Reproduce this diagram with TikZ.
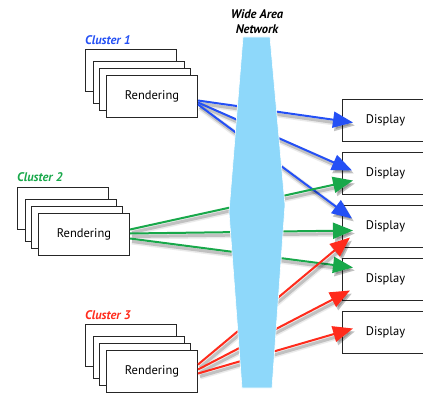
\documentclass[tikz,border=0pt]{standalone}
\usepackage{fontspec}
\setmainfont{PT Sans}
\usetikzlibrary{arrows.meta}

\definecolor{linkblue}{HTML}{2450F5}
\definecolor{linkgreen}{HTML}{18A84A}
\definecolor{linkred}{HTML}{FF2B1C}
\definecolor{wanblue}{HTML}{8ED8FA}

\tikzset{
    stackbox/.style={draw=black!85, line width=1pt, fill=white,
        minimum width=91pt, minimum height=42pt, inner sep=0pt,
        font=\fontsize{12.5}{14}\selectfont},
    displaybox/.style={stackbox, minimum width=90pt},
    tag/.style={font=\fontsize{12.5}{14}\selectfont\bfseries\itshape, inner sep=0pt},
    link/.style={line width=2pt, -{Triangle[length=20pt,width=16pt]},
        preaction={draw=black, opacity=0.08, line width=6pt,
            transform canvas={shift={(2pt,-3pt)}}},
        preaction={draw=black, opacity=0.18, line width=3pt,
            transform canvas={shift={(2pt,-3pt)}}}}
}

\begin{document}
\begin{tikzpicture}[x=1pt, y=-1pt]
    \useasboundingbox (0,0) rectangle (423,393);
    \clip (0,0) rectangle (423,393);

    % Rendering clusters
    \foreach \c/\x/\y in {1/85/49, 2/17/187, 3/85/324} {
        \foreach \k/\dx/\dy in {1/0/0, 2/8/12, 3/14/19, 4/21/26} {
            \ifnum \k=4
                \node[stackbox, anchor=north west] (c\c-\k) at (\x+\dx,\y+\dy) {Rendering};
            \else
                \node[stackbox, anchor=north west] (c\c-\k) at (\x+\dx,\y+\dy) {};
            \fi
        }
    }
    \node[tag, linkblue, anchor=west] (lab1) at (85,40) {Cluster 1};
    \node[tag, linkgreen, anchor=west] (lab2) at (17,177) {Cluster 2};
    \node[tag, linkred, anchor=west] (lab3) at (85,315) {Cluster 3};

    % Displays
    \foreach \i/\y in {1/99,2/152,3/205,4/258,5/311} {
        \node[displaybox, anchor=north west] (d\i) at (342,\y) {\hspace*{-4pt}Display};
    }

    % Links
    \foreach \d/\s/\tx/\ty in {1/4/11/2, 2/6/10/-3, 3/8/10/-8} {
        \draw[link, linkblue] ([shift={(0,\s)}]c1-4.east) -- ([shift={(\tx,\ty)}]d\d.west);
    }
    \foreach \d/\s/\tx/\ty in {2/-5/11/7, 3/-1/11/4, 4/4/11/-12} {
        \draw[link, linkgreen] ([shift={(0,\s)}]c2-4.east) -- ([shift={(\tx,\ty)}]d\d.west);
    }
    \foreach \d/\s/\tx/\ty in {3/-7/8/11, 4/-2/8/11, 5/2/11/-4} {
        \draw[link, linkred] ([shift={(0,\s)}]c3-4.east) -- ([shift={(\tx,\ty)}]d\d.west);
    }

    % Wide area network
    \fill[wanblue, draw=white, line width=0.6pt]
        (243,37) -- (270,37) -- (285,205) -- (272,388) -- (242,388) -- (229,212) -- cycle;
    \node[tag, font=\fontsize{12.5}{15}\selectfont\bfseries\itshape, align=center] (wan) at (257,22) {Wide Area\\Network};
\end{tikzpicture}
\end{document}
